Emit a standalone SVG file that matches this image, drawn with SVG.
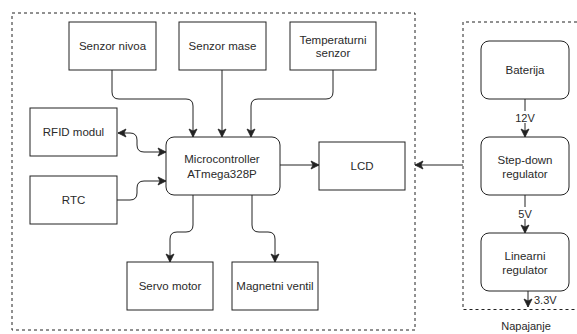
<svg xmlns="http://www.w3.org/2000/svg" width="577" height="334" viewBox="0 0 577 334">
<style>
  .box { fill: #ffffff; stroke: #222; stroke-width: 1; }
  .cont { fill: none; stroke: #222; stroke-width: 1; stroke-dasharray: 3 3; }
  .t { font-family: "Liberation Sans", Arial, sans-serif; font-size: 11.5px; fill: #2a2a2a; text-anchor: middle; }
  .lbl { font-family: "Liberation Sans", Arial, sans-serif; font-size: 11px; fill: #2a2a2a; text-anchor: middle; }
  .e { fill: none; stroke: #222; stroke-width: 1; }
</style>
<defs>
  <marker id="ah" markerUnits="userSpaceOnUse" markerWidth="10" markerHeight="10" viewBox="0 0 10 10" refX="9" refY="5" orient="auto-start-reverse">
    <path d="M1,1 L9,5 L1,9 L3,5 Z" fill="#222" stroke="#222" stroke-width="0.8"/>
  </marker>
</defs>
<rect width="577" height="334" fill="#ffffff"/>
<g id="containers">
  <rect class="cont" x="12" y="13" width="403" height="317"/>
  <path class="cont" d="M577,22 H463 V309.5 H577"/>
  <text class="lbl" x="526" y="330">Napajanje</text>
</g>
<g id="connectors">
  <path class="e" d="M112,70 V92 Q112,99 119,99 H186 Q193,99 193,106 V137" marker-end="url(#ah)"/>
  <path class="e" d="M222,70 V137" marker-end="url(#ah)"/>
  <path class="e" d="M333,70 V92 Q333,99 326,99 H258 Q251,99 251,106 V137" marker-end="url(#ah)"/>
  <path class="e" d="M118,133 H130 Q137,133 137,140 V145 Q137,152 144,152 H166" marker-start="url(#ah)" marker-end="url(#ah)"/>
  <path class="e" d="M117,200 H130 Q137,200 137,193 V188 Q137,181 144,181 H166" marker-end="url(#ah)"/>
  <path class="e" d="M193,195 V225 Q193,232 186,232 H177 Q170,232 170,239 V262" marker-end="url(#ah)"/>
  <path class="e" d="M252,195 V225 Q252,232 259,232 H268 Q275,232 275,239 V262" marker-end="url(#ah)"/>
  <path class="e" d="M280,165 H319" marker-end="url(#ah)"/>
  <path class="e" d="M463,165 H415" marker-end="url(#ah)"/>
  <path class="e" d="M525,99 V137" marker-end="url(#ah)"/>
  <path class="e" d="M525,195 V233" marker-end="url(#ah)"/>
  <path class="e" d="M528,291 V307" marker-end="url(#ah)"/>
  <rect x="515" y="111" width="20" height="12" fill="#ffffff"/>
  <text class="lbl" x="525" y="122">12V</text>
  <rect x="518" y="207" width="14" height="12" fill="#ffffff"/>
  <text class="lbl" x="525" y="218">5V</text>
  <text class="lbl" x="534" y="304" style="text-anchor:start">3.3V</text>
</g>
<g id="senzor-nivoa">
  <rect class="box" x="69" y="22" width="87" height="48"/>
  <text class="t" x="112.5" y="50">Senzor nivoa</text>
</g>
<g id="senzor-mase">
  <rect class="box" x="179" y="22" width="87" height="48"/>
  <text class="t" x="222.5" y="50">Senzor mase</text>
</g>
<g id="temperaturni-senzor">
  <rect class="box" x="290" y="22" width="86" height="48"/>
  <text class="t" x="333" y="44">Temperaturni</text>
  <text class="t" x="333" y="57">senzor</text>
</g>
<g id="rfid">
  <rect class="box" x="30" y="108" width="87" height="48"/>
  <text class="t" x="73.5" y="136">RFID modul</text>
</g>
<g id="rtc">
  <rect class="box" x="30" y="176" width="87" height="48"/>
  <text class="t" x="73.5" y="204">RTC</text>
</g>
<g id="microcontroller">
  <rect class="box" x="166" y="137" width="114" height="58" rx="8" ry="8"/>
  <text class="t" x="222" y="163">Microcontroller</text>
  <text class="t" x="222" y="178">ATmega328P</text>
</g>
<g id="lcd">
  <rect class="box" x="319" y="142" width="86" height="48"/>
  <text class="t" x="362" y="170">LCD</text>
</g>
<g id="servo">
  <rect class="box" x="127" y="262" width="86" height="48"/>
  <text class="t" x="170" y="290">Servo motor</text>
</g>
<g id="magnetni">
  <rect class="box" x="232" y="262" width="86" height="48"/>
  <text class="t" x="275" y="290">Magnetni ventil</text>
</g>
<g id="baterija">
  <rect class="box" x="481" y="41" width="88" height="58" rx="8" ry="8"/>
  <text class="t" x="525" y="74">Baterija</text>
</g>
<g id="step-down">
  <rect class="box" x="481" y="137" width="88" height="58" rx="8" ry="8"/>
  <text class="t" x="525" y="164">Step-down</text>
  <text class="t" x="525" y="178">regulator</text>
</g>
<g id="linearni">
  <rect class="box" x="481" y="233" width="88" height="58" rx="8" ry="8"/>
  <text class="t" x="525" y="260">Linearni</text>
  <text class="t" x="525" y="274">regulator</text>
</g>
</svg>
